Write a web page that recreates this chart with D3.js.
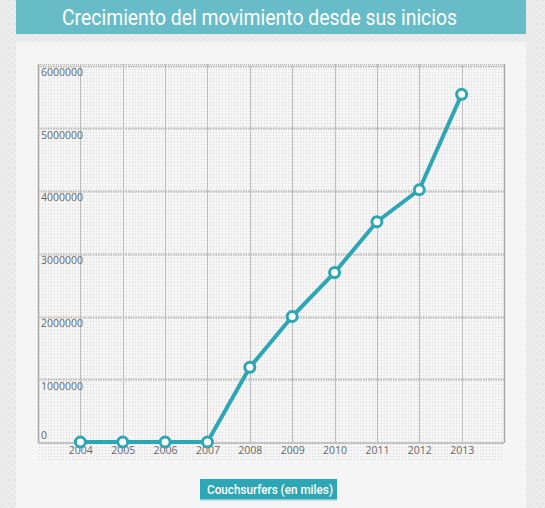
<!DOCTYPE html>
<html lang="es">
<head>
<meta charset="utf-8">
<title>Crecimiento del movimiento</title>
<script src="https://d3js.org/d3.v7.min.js"></script>
<style>
  body { margin: 0; background: #e9e9e9; }
  svg { display: block; }
</style>
</head>
<body>
<script>
// datos del gráfico
var years = ["2004", "2005", "2006", "2007", "2008", "2009", "2010", "2011", "2012", "2013"];
var couchsurfers = [0, 0, 0, 0, 1190000, 2000000, 2700000, 3510000, 4020000, 5540000];
var yTicks = [0, 1000000, 2000000, 3000000, 4000000, 5000000, 6000000];
var title = "Crecimiento del movimiento desde sus inicios";
var legendLabel = "Couchsurfers (en miles)";

var width = 545, height = 508;
var teal = "#2ea6b6";

var svg = d3.select("body").append("svg")
    .attr("width", width)
    .attr("height", height);

var defs = svg.append("defs");

// textura del fondo exterior
var bgPat = defs.append("pattern")
    .attr("id", "hatch").attr("width", 6).attr("height", 6)
    .attr("patternUnits", "userSpaceOnUse");
bgPat.append("rect").attr("width", 6).attr("height", 6).attr("fill", "#e8e8e8");
bgPat.append("path").attr("d", "M0,6 L6,0 M0,0 L6,6")
    .attr("stroke", "#efefef").attr("stroke-width", 1);

// puntitos del área del gráfico
var dotPat = defs.append("pattern")
    .attr("id", "dots").attr("width", 3).attr("height", 3)
    .attr("patternUnits", "userSpaceOnUse");
dotPat.append("rect").attr("width", 3).attr("height", 3).attr("fill", "#f5f5f5");
dotPat.append("rect").attr("width", 1).attr("height", 1).attr("fill", "#dadada");

svg.append("rect").attr("width", width).attr("height", height).attr("fill", "url(#hatch)");

// cabecera
svg.append("rect")
    .attr("x", 16).attr("y", 0).attr("width", 510).attr("height", 34)
    .attr("fill", "#68bcc7");
svg.append("text")
    .attr("x", 62).attr("y", 25)
    .attr("fill", "#fff")
    .attr("textLength", 395)
    .attr("lengthAdjust", "spacingAndGlyphs")
    .style("font-family", "Roboto, sans-serif")
    .style("font-size", "22px")
    .text(title);

// panel
svg.append("rect")
    .attr("x", 16).attr("y", 42).attr("width", 510).attr("height", height - 42)
    .attr("fill", "#f5f5f5");

var margin = { left: 38, right: 504, top: 64, bottom: 443 };

var x = d3.scalePoint()
    .domain(years)
    .range([margin.left, margin.right])
    .padding(1);

var y = d3.scaleLinear()
    .domain([0, 6000000])
    .range([442, 65.5]);

// fondo punteado
svg.append("rect")
    .attr("x", margin.left).attr("y", margin.top)
    .attr("width", margin.right - margin.left).attr("height", 462 - margin.top)
    .attr("fill", "url(#dots)");

var g = svg.append("g");

// líneas horizontales punteadas
g.selectAll(".hgrid")
    .data(yTicks.filter(function(d) { return d > 0; }))
    .enter().append("line")
    .attr("x1", margin.left).attr("x2", margin.right)
    .attr("y1", function(d) { return Math.round(y(d)) + 0.5; })
    .attr("y2", function(d) { return Math.round(y(d)) + 0.5; })
    .attr("stroke", "#b8b8b8")
    .attr("stroke-width", 2)
    .attr("stroke-dasharray", "1.5,1");

// borde superior
g.append("line")
    .attr("x1", margin.left).attr("x2", margin.right)
    .attr("y1", margin.top + 0.5).attr("y2", margin.top + 0.5)
    .attr("stroke", "#b5b5b5").attr("stroke-dasharray", "1,1");

// líneas verticales
g.selectAll(".vgrid")
    .data(years)
    .enter().append("line")
    .attr("x1", function(d) { return Math.round(x(d)) + 0.5; })
    .attr("x2", function(d) { return Math.round(x(d)) + 0.5; })
    .attr("y1", margin.top).attr("y2", margin.bottom)
    .attr("stroke", "#bdbdbd");

[margin.left, margin.right].forEach(function(px) {
  g.append("line")
    .attr("x1", px + 0.5).attr("x2", px + 0.5)
    .attr("y1", margin.top).attr("y2", margin.bottom)
    .attr("stroke", "#aaa").attr("stroke-width", 1.5);
});

// eje x
g.append("line")
    .attr("x1", margin.left).attr("x2", margin.right)
    .attr("y1", margin.bottom).attr("y2", margin.bottom)
    .attr("stroke", "#c4c4c4").attr("stroke-width", 2);

var xAxis = svg.append("g")
    .attr("transform", "translate(0," + (margin.bottom + 1) + ")")
    .call(d3.axisBottom(x).tickSize(0).tickPadding(3));
xAxis.select(".domain").remove();
xAxis.selectAll("text")
    .attr("fill", "#666")
    .style("font-family", "'Open Sans', sans-serif")
    .style("font-size", "10.5px");

// etiquetas del eje y
var yAxis = svg.append("g")
    .attr("transform", "translate(" + (margin.left + 3) + ",0)")
    .call(d3.axisRight(y).tickValues(yTicks).tickSize(0).tickPadding(0).tickFormat(d3.format("d")));
yAxis.select(".domain").remove();
yAxis.selectAll("text")
    .attr("dy", "0.95em")
    .attr("fill", "#666")
    .style("font-family", "'Open Sans', sans-serif")
    .style("font-size", "10.5px");
yAxis.selectAll(".tick").filter(function(d) { return d === 0; })
    .select("text").attr("dy", "-0.35em");

// serie
var line = d3.line()
    .x(function(d, i) { return x(years[i]); })
    .y(function(d) { return y(d); });

svg.append("path")
    .datum(couchsurfers)
    .attr("d", line)
    .attr("fill", "none")
    .attr("stroke", teal)
    .attr("stroke-width", 4)
    .attr("stroke-linejoin", "round");

svg.selectAll(".pt")
    .data(couchsurfers)
    .enter().append("circle")
    .attr("cx", function(d, i) { return x(years[i]); })
    .attr("cy", function(d) { return y(d); })
    .attr("r", 5)
    .attr("fill", "#fff")
    .attr("stroke", teal)
    .attr("stroke-width", 3);

// leyenda
svg.append("rect")
    .attr("x", 200).attr("y", 479).attr("width", 137).attr("height", 20)
    .attr("fill", teal);
svg.append("rect")
    .attr("x", 200).attr("y", 499).attr("width", 137).attr("height", 1.5)
    .attr("fill", "#8fd0d8");
svg.append("text")
    .attr("x", 207).attr("y", 494)
    .attr("fill", "#fff")
    .attr("textLength", 126)
    .attr("lengthAdjust", "spacingAndGlyphs")
    .style("font-family", "Roboto, sans-serif")
    .style("font-weight", "500")
    .style("font-size", "13.5px")
    .text(legendLabel);
</script>
</body>
</html>
